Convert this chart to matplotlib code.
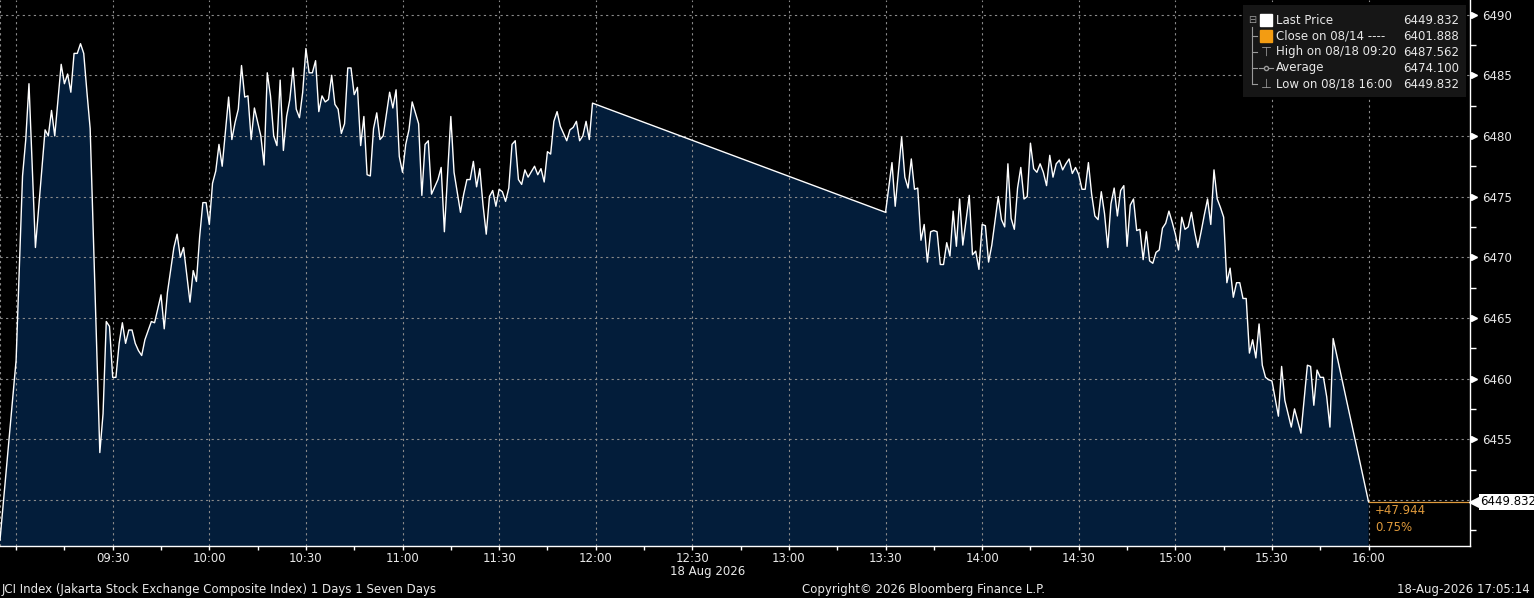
import matplotlib
matplotlib.use('Agg')
import matplotlib.pyplot as plt
import matplotlib.transforms as mtransforms
from matplotlib.patches import FancyBboxPatch
import numpy as np

# JCI intraday, minutes after 09:00 and index level
am_minutes = [-5, 0, 2, 3, 4, 6, 9, 10, 11, 12, 14, 15, 16, 17, 18, 19, 20, 21, 22, 23,
              26, 27, 28, 29, 30, 31, 32, 33, 34, 35, 36, 37, 38, 39, 40, 42, 43, 45, 46, 47,
              49, 50, 51, 52, 54, 55, 56, 57, 58, 59, 60, 61, 62, 63, 64, 66, 67, 68, 69, 70,
              71, 72, 73, 74, 76, 77, 78, 79, 80, 81, 82, 83, 84, 85, 86, 87, 88, 89, 90, 91,
              92, 93, 94, 95, 96, 97, 98, 99, 100, 101, 102, 103, 104, 105, 106, 107, 108, 109,
              110, 111, 112, 113, 114, 116, 117, 118, 119, 120, 121, 122, 123, 125, 126, 127,
              128, 129, 130, 131, 132, 133, 135, 136, 138, 139, 140, 141, 142, 143, 144, 145,
              146, 147, 148, 149, 150, 151, 152, 153, 154, 155, 156, 157, 158, 159, 161, 162,
              163, 164, 165, 166, 167, 168, 169, 171, 172, 173, 174, 175, 176, 177, 178, 179]
am_prices = [6446.7, 6461.5, 6476.7, 6479.7, 6484.3, 6470.8, 6480.5, 6480.0, 6482.1, 6480.0,
             6485.9, 6484.3, 6485.1, 6483.6, 6486.8, 6486.8, 6487.6, 6486.8, 6483.6, 6480.6,
             6453.9, 6457.1, 6464.7, 6464.3, 6460.1, 6460.1, 6462.9, 6464.6, 6462.9, 6464.0,
             6464.0, 6462.9, 6462.3, 6461.9, 6463.2, 6464.7, 6464.6, 6466.9, 6464.1, 6467.1,
             6470.8, 6471.9, 6470.0, 6470.8, 6466.3, 6468.9, 6468.0, 6471.7, 6474.5, 6474.5,
             6472.7, 6476.1, 6477.1, 6479.3, 6477.5, 6483.2, 6479.7, 6481.1, 6482.2, 6485.8,
             6483.2, 6483.3, 6479.7, 6482.3, 6480.0, 6477.6, 6485.2, 6483.3, 6480.0, 6479.2,
             6484.6, 6478.8, 6481.6, 6483.0, 6485.6, 6482.2, 6481.5, 6483.6, 6487.2, 6485.2,
             6485.2, 6486.2, 6482.0, 6483.3, 6482.8, 6483.0, 6485.0, 6482.6, 6482.2, 6480.2,
             6481.0, 6485.6, 6485.6, 6483.4, 6484.0, 6479.2, 6481.6, 6476.8, 6476.7, 6480.6,
             6481.9, 6479.7, 6480.0, 6483.6, 6482.3, 6483.8, 6478.3, 6477.0, 6479.3, 6480.5,
             6482.8, 6481.0, 6475.1, 6479.3, 6479.6, 6475.2, 6475.8, 6476.4, 6477.4, 6472.1,
             6481.6, 6477.0, 6473.7, 6475.2, 6476.4, 6476.4, 6477.9, 6475.8, 6477.3, 6474.3,
             6471.9, 6475.0, 6475.5, 6474.2, 6475.6, 6475.4, 6474.6, 6475.7, 6479.3, 6479.6,
             6476.4, 6476.0, 6477.2, 6476.6, 6477.5, 6476.8, 6477.3, 6476.2, 6478.7, 6478.5,
             6481.2, 6482.0, 6480.8, 6479.6, 6480.5, 6480.7, 6481.2, 6479.6, 6480.0, 6481.2,
             6479.7, 6482.7]

pm_minutes = [270, 272, 273, 275, 276, 277, 278, 279, 280, 281, 282, 283, 284, 285, 286, 287,
              288, 289, 290, 291, 292, 293, 294, 296, 297, 298, 299, 300, 301, 302, 303, 305,
              306, 307, 308, 309, 310, 311, 312, 313, 314, 315, 316, 317, 318, 319, 320, 321,
              322, 323, 324, 325, 326, 327, 328, 329, 330, 331, 332, 333, 334, 335, 336, 337,
              338, 339, 340, 341, 342, 343, 344, 345, 346, 347, 348, 349, 350, 351, 352, 353,
              354, 355, 356, 357, 358, 359, 360, 361, 362, 363, 364, 365, 366, 367, 368, 369,
              370, 371, 372, 373, 374, 375, 376, 377, 378, 379, 380, 381, 382, 383, 384, 385,
              386, 387, 388, 389, 390, 392, 393, 394, 396, 397, 399, 401, 402, 403, 404, 405,
              406, 407, 408, 409, 420]
pm_prices = [6473.7, 6477.8, 6474.2, 6479.9, 6476.6, 6475.7, 6478.1, 6475.6, 6475.7, 6471.4,
             6472.7, 6469.6, 6472.1, 6472.2, 6472.1, 6469.4, 6469.4, 6471.2, 6470.1, 6473.8,
             6470.9, 6474.8, 6471.0, 6475.1, 6470.2, 6470.5, 6469.0, 6472.7, 6472.6, 6469.6,
             6471.0, 6475.0, 6473.1, 6472.5, 6477.7, 6473.2, 6472.3, 6475.7, 6477.4, 6474.8,
             6475.0, 6479.4, 6477.3, 6477.0, 6477.7, 6477.0, 6475.9, 6478.4, 6476.6, 6477.7,
             6478.0, 6477.2, 6477.7, 6478.1, 6476.9, 6477.4, 6476.8, 6475.6, 6475.6, 6477.8,
             6475.2, 6473.4, 6473.1, 6475.4, 6473.6, 6470.8, 6474.4, 6475.7, 6473.4, 6475.5,
             6475.9, 6470.9, 6474.3, 6474.8, 6472.2, 6472.3, 6469.8, 6472.1, 6469.7, 6469.5,
             6470.4, 6470.6, 6472.4, 6472.8, 6473.8, 6472.9, 6471.9, 6470.6, 6473.3, 6472.3,
             6472.5, 6473.7, 6472.1, 6470.8, 6472.1, 6473.5, 6474.8, 6472.7, 6477.2, 6474.8,
             6474.1, 6473.3, 6467.9, 6469.1, 6466.7, 6467.9, 6467.9, 6466.6, 6466.6, 6462.1,
             6463.2, 6461.7, 6464.5, 6461.1, 6460.1, 6459.9, 6459.8, 6456.9, 6461.0, 6458.2,
             6456.0, 6457.5, 6455.5, 6461.1, 6461.0, 6457.8, 6460.7, 6460.1, 6460.1, 6458.5,
             6456.0, 6463.3, 6449.832]

last_price = 6449.832
net_change = '+47.944'
pct_change = '0.75%'
legend_rows = [('Last Price', '6449.832'),
               ('Close on 08/14 ----', '6401.888'),
               ('High on 08/18 09:20', '6487.562'),
               ('Average', '6474.100'),
               ('Low on 08/18 16:00', '6449.832')]
y_ticks = [6455, 6460, 6465, 6470, 6475, 6480, 6485, 6490]
date_label = '18 Aug 2026'
footer_left = 'JCI Index (Jakarta Stock Exchange Composite Index) 1 Days 1 Seven Days'
footer_mid = 'Copyright\u00a9 2026 Bloomberg Finance L.P.'
footer_right = '18-Aug-2026 17:05:14'

minutes = np.array(am_minutes + pm_minutes)
prices = np.array(am_prices + pm_prices)

W, H = 1534, 598
fig = plt.figure(figsize=(W / 100, H / 100), dpi=100, facecolor='black')
ax = fig.add_axes([0, 1 - 546 / H, 1470 / W, 546 / H])
ax.set_facecolor('black')

fs = 8.5
txt = '#e8e8e8'
orange = '#df9a3c'

ax.fill_between(minutes, prices, 6400, color='#031d3a', lw=0, zorder=1)
ax.plot(minutes, prices, color='white', lw=1.0, zorder=3)
ax.plot([420, 460], [last_price, last_price], color=orange, lw=0.9, zorder=3)

ax.set_xlim(-5, 451.5)
ax.set_ylim(6446.2, 6491.2)

# grid
ax.set_xticks(range(0, 421, 30), minor=False)
ax.set_yticks([6450] + y_ticks)
ax.grid(True, color='#8a8a8a', ls=(0, (2, 3)), lw=0.8)

# x ticks
ax.set_xticks(range(0, 421, 15), minor=True)
ax.xaxis.set_major_formatter(plt.FuncFormatter(
    lambda m, p: '' if m < 30 else '%02d:%02d' % (9 + int(m) // 60, int(m) % 60)))
ax.tick_params(axis='x', which='both', colors='white', labelcolor=txt,
               labelsize=fs, length=3, width=1, pad=1)

# y ticks on the right
ax.yaxis.tick_right()
ax.yaxis.set_major_formatter(plt.FuncFormatter(lambda v, p: '' if v < 6452 else '%d' % v))
ax.set_yticks(np.arange(6447.5, 6491, 5), minor=True)
ax.tick_params(axis='y', which='major', length=0, pad=9, labelsize=fs, labelcolor=txt)
ax.tick_params(axis='y', which='minor', length=4, width=1, colors='white')
tri_tr = mtransforms.offset_copy(ax.get_yaxis_transform(), fig=fig, x=4, units='dots')
ax.plot(np.ones(len(y_ticks)), y_ticks, ls='none', marker='>', ms=5, color='white',
        transform=tri_tr, clip_on=False)

for s in ['top', 'left']:
    ax.spines[s].set_visible(False)
for s in ['bottom', 'right']:
    ax.spines[s].set_color('white')
    ax.spines[s].set_linewidth(1)
ax.axvline(-5, color='#8a8a8a', ls=(0, (2, 3)), lw=0.8)

# last price tag
yt = ax.get_yaxis_transform()
tip_tr = mtransforms.offset_copy(yt, fig=fig, x=5, units='dots')
ax.plot([1], [last_price], marker='<', ms=9, color='white', ls='none',
        transform=tip_tr, clip_on=False, zorder=5)
ax.annotate('6449.832', xy=(1, last_price), xycoords=yt, xytext=(7.5, 0),
            textcoords='offset points', ha='left', va='center', fontsize=fs, color='black',
            bbox=dict(boxstyle='square,pad=0.15', fc='white', ec='none'),
            annotation_clip=False, zorder=5)

ax.text(422, last_price - 0.2, net_change, color=orange, fontsize=fs, va='top', ha='left')
ax.text(422, last_price - 1.55, pct_change, color=orange, fontsize=fs, va='top', ha='left')

# legend box
def px(x, y):
    return x / 1470, 1 - y / 546

x0, y0 = px(1243, 97)
x1, y1 = px(1466, 5)
ax.add_patch(FancyBboxPatch((x0, y0), x1 - x0, y1 - y0, boxstyle='square,pad=0',
                            transform=ax.transAxes, fc='#161616', ec='none', zorder=6))
gray = '#9a9a9a'
row_y = [20, 36, 52, 68, 84]
for (label, val), ry in zip(legend_rows, row_y):
    ax.text(*px(1276, ry), label, transform=ax.transAxes, color=txt, fontsize=fs,
            va='center', ha='left', zorder=7)
    ax.text(*px(1459, ry), val, transform=ax.transAxes, color=txt, fontsize=fs,
            va='center', ha='right', zorder=7)
ax.text(*px(1252, 20), '\u229f', transform=ax.transAxes, color=gray, fontsize=7,
        va='center', ha='center', zorder=7)
ax.plot(*zip(px(1252, 27), px(1252, 84)), color=gray, lw=0.8, transform=ax.transAxes, zorder=7)
for ry in row_y[1:]:
    ax.plot(*zip(px(1252, ry), px(1257, ry)), color=gray, lw=0.8, transform=ax.transAxes, zorder=7)
ax.plot(*px(1266, 20), marker='s', ms=9, color='white', transform=ax.transAxes, zorder=7)
ax.plot(*px(1266, 36), marker='s', ms=9, color='#f39c12', transform=ax.transAxes, zorder=7)
ax.text(*px(1266, 52), '\u22a4', transform=ax.transAxes, color=gray, fontsize=9,
        va='center', ha='center', zorder=7)
ax.plot(*zip(px(1259, 68), px(1273, 68)), color=gray, lw=0.8, transform=ax.transAxes, zorder=7)
ax.plot(*px(1266, 68), marker='o', ms=3, mfc='#161616', mec=gray, transform=ax.transAxes, zorder=7)
ax.text(*px(1266, 84), '\u22a5', transform=ax.transAxes, color=gray, fontsize=9,
        va='center', ha='center', zorder=7)

# footer texts
fig.text(708 / W, 1 - 572 / H, date_label, color=txt, fontsize=fs, ha='center', va='center')
fig.text(2 / W, 1 - 590 / H, footer_left, color=txt, fontsize=fs, ha='left', va='center')
fig.text(924 / W, 1 - 590 / H, footer_mid, color=txt, fontsize=fs, ha='center', va='center')
fig.text(1530 / W, 1 - 590 / H, footer_right, color=txt, fontsize=fs, ha='right', va='center')

fig.savefig('out.png', dpi=100, facecolor='black')
